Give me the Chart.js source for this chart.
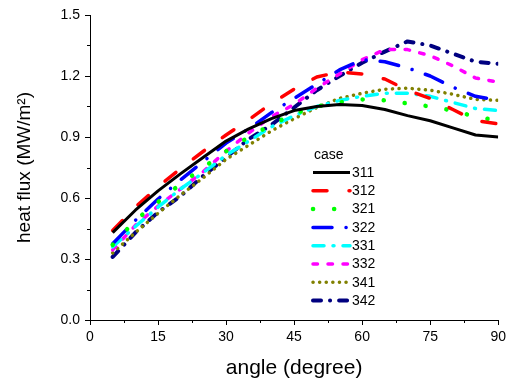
<!DOCTYPE html>
<html>
<head>
<meta charset="utf-8">
<script src="https://cdn.jsdelivr.net/npm/chart.js@4/dist/chart.umd.min.js"></script>
<style>
  html, body { margin: 0; padding: 0; background: #fff; }
  #c { display: block; }
</style>
</head>
<body>
<canvas id="c" width="510" height="382" style="width:510px;height:382px"></canvas>
<script>
// ---- data ----
const angles = [5, 10, 15, 20, 25, 30, 35, 40, 45, 50, 55, 60, 65, 70, 75, 80, 85, 90];
const caseNames = ['311', '312', '321', '322', '331', '332', '341', '342'];
const case311 = [0.43, 0.54, 0.635, 0.72, 0.80, 0.88, 0.94, 0.99, 1.03, 1.05, 1.06, 1.055, 1.035, 1.005, 0.98, 0.945, 0.91, 0.90];
const case312 = [0.44, 0.555, 0.655, 0.745, 0.83, 0.91, 0.985, 1.065, 1.135, 1.195, 1.22, 1.21, 1.185, 1.13, 1.09, 1.035, 0.98, 0.965];
const case321 = [0.37, 0.49, 0.58, 0.67, 0.75, 0.83, 0.90, 0.96, 1.015, 1.05, 1.07, 1.085, 1.08, 1.065, 1.05, 1.03, 1.0, 0.98];
const case322 = [0.375, 0.49, 0.595, 0.69, 0.78, 0.87, 0.94, 1.02, 1.09, 1.16, 1.23, 1.28, 1.27, 1.24, 1.20, 1.145, 1.10, 1.08];
const case331 = [0.36, 0.46, 0.555, 0.645, 0.725, 0.81, 0.88, 0.95, 1.005, 1.05, 1.08, 1.10, 1.115, 1.115, 1.10, 1.07, 1.04, 1.03];
const case332 = [0.345, 0.465, 0.56, 0.645, 0.73, 0.83, 0.92, 1.0, 1.06, 1.14, 1.21, 1.28, 1.33, 1.33, 1.30, 1.25, 1.19, 1.17];
const case341 = [0.33, 0.43, 0.525, 0.615, 0.70, 0.79, 0.86, 0.93, 0.99, 1.045, 1.09, 1.115, 1.135, 1.14, 1.13, 1.11, 1.085, 1.08];
const case342 = [0.31, 0.43, 0.53, 0.61, 0.71, 0.80, 0.89, 0.96, 1.045, 1.13, 1.20, 1.265, 1.32, 1.37, 1.35, 1.31, 1.27, 1.26];
const xTicks = [0, 15, 30, 45, 60, 75, 90];
const yTicks = [0.0, 0.3, 0.6, 0.9, 1.2, 1.5];

const seriesValues = [case311, case312, case321, case322, case331, case332, case341, case342];
const styles = [
  { color: '#000000', width: 3,   dash: [],               cap: 'butt'  },
  { color: '#ff0000', width: 3.5, dash: [14, 22],         cap: 'round' },
  { color: '#00ff00', width: 4.5, dash: [0.1, 21],        cap: 'round' },
  { color: '#0000ff', width: 3.5, dash: [19, 14, 0.1, 14],cap: 'round' },
  { color: '#00ffff', width: 3.5, dash: [11, 9, 1, 9],    cap: 'round' },
  { color: '#ff00ff', width: 3.5, dash: [4.5, 10.5],      cap: 'round' },
  { color: '#808000', width: 3.5, dash: [0.1, 6.5],       cap: 'round' },
  { color: '#000080', width: 4,   dash: [8, 9, 0.1, 9],   cap: 'round' }
];

const FONT = "'Liberation Sans', Arial, Helvetica, sans-serif";
Chart.defaults.font.family = FONT;
Chart.defaults.color = '#000';

const datasets = seriesValues.map((vals, i) => ({
  label: caseNames[i],
  data: angles.map((a, j) => ({ x: a, y: vals[j] })),
  borderColor: styles[i].color,
  backgroundColor: styles[i].color,
  borderWidth: styles[i].width,
  borderDash: styles[i].dash,
  borderCapStyle: styles[i].cap,
  borderJoinStyle: 'round',
  pointRadius: 0,
  tension: 0,
  fill: false
}));

// minor ticks midway between major ticks, drawn outward
const minorTicks = {
  id: 'minorTicks',
  afterDraw(chart) {
    const ctx = chart.ctx;
    const xs = chart.scales.x, ys = chart.scales.y;
    ctx.save();
    ctx.strokeStyle = '#000';
    ctx.lineWidth = 1;
    ctx.beginPath();
    for (let i = 0; i < xTicks.length - 1; i++) {
      const v = (xTicks[i] + xTicks[i + 1]) / 2;
      const px = Math.round(xs.getPixelForValue(v)) + 0.5;
      ctx.moveTo(px, chart.chartArea.bottom);
      ctx.lineTo(px, chart.chartArea.bottom + 3);
    }
    for (let i = 0; i < yTicks.length - 1; i++) {
      const v = (yTicks[i] + yTicks[i + 1]) / 2;
      const py = Math.round(ys.getPixelForValue(v)) + 0.5;
      ctx.moveTo(chart.chartArea.left, py);
      ctx.lineTo(chart.chartArea.left - 3, py);
    }
    ctx.stroke();
    ctx.restore();
  }
};

// legend drawn inside the plot, like the reference
const insideLegend = {
  id: 'insideLegend',
  afterDraw(chart) {
    const ctx = chart.ctx;
    const x0 = 313, x1 = 350, tx = 352, titleY = 155, rowY0 = 172.5, rowH = 18.3;
    ctx.save();
    ctx.font = '14px ' + FONT;
    ctx.fillStyle = '#000';
    ctx.textBaseline = 'middle';
    ctx.textAlign = 'left';
    ctx.fillText('case', 314, titleY);
    chart.data.datasets.forEach((ds, i) => {
      const y = rowY0 + i * rowH;
      ctx.save();
      ctx.strokeStyle = ds.borderColor;
      ctx.lineWidth = ds.borderWidth;
      ctx.lineCap = ds.borderCapStyle;
      ctx.setLineDash(ds.borderDash);
      ctx.beginPath();
      ctx.moveTo(x0, y);
      ctx.lineTo(x1, y);
      ctx.stroke();
      ctx.restore();
      ctx.fillText(ds.label, tx, y + 0.5);
    });
    ctx.restore();
  }
};

new Chart(document.getElementById('c'), {
  type: 'line',
  data: { datasets },
  options: {
    responsive: false,
    devicePixelRatio: 1,
    animation: false,
    layout: { padding: { top: 15, right: 11, left: 0, bottom: 0 } },
    plugins: {
      legend: { display: false },
      tooltip: { enabled: false }
    },
    scales: {
      x: {
        type: 'linear',
        min: 0, max: 90,
        afterBuildTicks(scale) { scale.ticks = xTicks.map(v => ({ value: v })); },
        afterFit(scale) { scale.height = 62; },
        ticks: { font: { size: 14 }, color: '#000', padding: 4, maxRotation: 0, autoSkip: false,
                 callback: v => String(v) },
        grid: { drawOnChartArea: false, drawTicks: true, tickLength: 5, color: '#000', lineWidth: 1 },
        border: { display: true, color: '#000', width: 1 },
        title: { display: true, text: 'angle (degree)', font: { size: 21 }, color: '#000',
                 padding: { top: 0, bottom: 1.4 } }
      },
      y: {
        type: 'linear',
        min: 0, max: 1.5,
        afterBuildTicks(scale) { scale.ticks = yTicks.map(v => ({ value: v })); },
        afterFit(scale) { scale.width = 90; },
        ticks: { font: { size: 14 }, color: '#000', padding: 5, autoSkip: false,
                 callback: v => Number(v).toFixed(1) },
        grid: { drawOnChartArea: false, drawTicks: true, tickLength: 5, color: '#000', lineWidth: 1 },
        border: { display: true, color: '#000', width: 1 },
        title: { display: true, text: 'heat flux (MW/m\u00B2)', font: { size: 19 }, color: '#000',
                 padding: { top: 13.6, bottom: 0 } }
      }
    }
  },
  plugins: [minorTicks, insideLegend]
});
</script>
</body>
</html>
